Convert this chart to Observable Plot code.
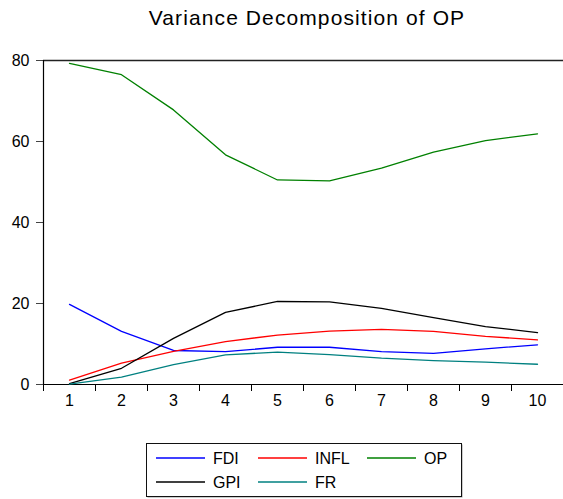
<!DOCTYPE html>
<html>
<head>
<meta charset="utf-8">
<script src="https://cdn.jsdelivr.net/npm/d3@7"></script>
<script src="https://cdn.jsdelivr.net/npm/@observablehq/plot@0.6"></script>
<style>
  body { margin: 0; background: #fff; font-family: "Liberation Sans", Arial, sans-serif; color: #000; }
  #wrap { position: relative; width: 563px; height: 499px; overflow: hidden; }
  #title { position: absolute; left: 51px; top: 5px; width: 512px; text-align: center; font-size: 21px; letter-spacing: 1.1px; line-height: 26px; }
  #chart { position: absolute; left: 0; top: 40px; }
  #legend { position: absolute; left: 145px; top: 442px; }
</style>
</head>
<body>
<div id="wrap">
  <div id="title">Variance Decomposition of OP</div>
  <div id="chart"></div>
  <div id="legend"></div>
</div>
<script>
const periods = [1, 2, 3, 4, 5, 6, 7, 8, 9, 10];
const FDI  = [19.8, 13.1, 8.4, 8.1, 9.2, 9.2, 8.1, 7.7, 8.8, 9.8];
const INFL = [1.1, 5.3, 8.2, 10.6, 12.2, 13.2, 13.6, 13.1, 11.9, 11.0];
const OP   = [79.3, 76.5, 67.8, 56.7, 50.5, 50.3, 53.4, 57.4, 60.2, 61.9];
const GPI  = [0.2, 4.0, 11.4, 17.8, 20.5, 20.4, 18.8, 16.5, 14.3, 12.8];
const FR   = [0.1, 1.8, 4.9, 7.3, 8.0, 7.4, 6.5, 5.9, 5.5, 5.0];
const seriesNames = ["FDI", "INFL", "OP", "GPI", "FR"];
const seriesColors = ["#0000ff", "#ff0000", "#008000", "#000000", "#008080"];
const yTicks = [0, 20, 40, 60, 80];
const xTickLabels = ["1", "2", "3", "4", "5", "6", "7", "8", "9", "10"];

const seriesValues = [FDI, INFL, OP, GPI, FR];
const data = seriesNames.flatMap((s, i) =>
  periods.map((p, j) => ({ series: s, period: p, value: seriesValues[i][j] }))
);
const boundaries = periods.map(p => p - 0.5).concat([periods[periods.length - 1] + 0.5]);

const chart = Plot.plot({
  width: 563,
  height: 380,
  marginTop: 20,
  marginLeft: 43,
  marginRight: 0,
  marginBottom: 36,
  style: { fontFamily: '"Liberation Sans", Arial, sans-serif', color: "#000", background: "#fff" },
  x: { domain: [0.5, 10.5], axis: null },
  y: { domain: [0, 80], axis: null },
  color: { domain: seriesNames, range: seriesColors },
  marks: [
    Plot.axisY({ ticks: yTicks, tickSize: 7, tickPadding: 7, fontSize: 16, stroke: "#444", label: null }),
    Plot.axisX({ ticks: periods, tickSize: 0, tickPadding: 10, fontSize: 16, label: null, tickFormat: (d, i) => xTickLabels[i] }),
    Plot.axisX({ ticks: boundaries, tickSize: 7, label: null, tickFormat: () => "" }),
    Plot.ruleY([80], { stroke: "#222", strokeWidth: 1.5 }),
    Plot.ruleY([0], { stroke: "#000", strokeWidth: 1.2 }),
    Plot.ruleX([0.5], { stroke: "#000", strokeWidth: 1.2 }),
    Plot.line(data, { x: "period", y: "value", z: "series", stroke: "series", strokeWidth: 1.3 })
  ]
});
document.getElementById("chart").appendChild(chart);

// legend as a small SVG
const colX = [0, 102, 211];
const rowY = [16, 40];
const svg = d3.select("#legend").append("svg")
  .attr("width", 320).attr("height", 57)
  .style("font-family", '"Liberation Sans", Arial, sans-serif');
svg.append("rect").attr("x", 2.5).attr("y", 2.5).attr("width", 315).attr("height", 53).attr("fill", "#999");
svg.append("rect").attr("x", 1.5).attr("y", 1.5).attr("width", 315).attr("height", 53)
  .attr("fill", "#fff").attr("stroke", "#111").attr("stroke-width", 1);
seriesNames.forEach((s, i) => {
  const x0 = 11 + colX[i % 3];
  const y0 = rowY[Math.floor(i / 3)];
  svg.append("line").attr("x1", x0).attr("x2", x0 + 49).attr("y1", y0).attr("y2", y0)
    .attr("stroke", seriesColors[i]).attr("stroke-width", 1.3);
  svg.append("text").attr("x", x0 + 57).attr("y", y0).attr("dy", "0.36em")
    .attr("font-size", 16).attr("fill", "#000").text(s);
});
</script>
</body>
</html>
